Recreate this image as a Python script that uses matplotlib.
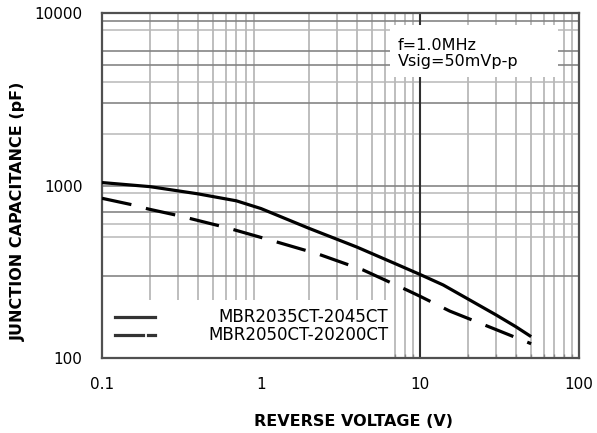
import matplotlib
matplotlib.use("Agg")
import matplotlib.pyplot as plt
from matplotlib.patches import Rectangle
from matplotlib.lines import Line2D
from matplotlib.ticker import FixedLocator, NullFormatter

plt.rcParams['font.family'] = ['DejaVu Sans']

# ---- data ----
v_solid = [0.1, 0.2, 0.4, 0.7, 1.0, 2.0, 4.0, 7.0, 10.0, 14.0, 20.0, 30.0, 40.0, 50.0]
c_solid = [1040, 985, 895, 815, 735, 565, 440, 352, 305, 265, 220, 178, 152, 133]

v_dash = [0.1, 0.157, 0.195, 0.309, 0.611, 1.14, 2.28, 4.38, 8.25, 10.0, 15.4, 29.6, 50.0]
c_dash = [843, 771, 731, 666, 569, 483, 401, 324, 248, 228, 187, 147, 121]

label_solid = "MBR2035CT-2045CT"
label_dash = "MBR2050CT-20200CT"

x_ticks = [0.1, 1, 10, 100]
x_ticklabels = ["0.1", "1", "10", "100"]
y_ticks = [100, 1000, 10000]
y_ticklabels = ["100", "1000", "10000"]

x_grid = [0.2, 0.3, 0.4, 0.5, 0.6, 0.7, 0.8, 0.9,
          2, 3, 4, 5, 6, 7, 8, 9,
          20, 30, 40, 50, 60, 70, 80, 90]
x_grid_major = [10]
y_grid_dark = [9000, 6000, 5000, 3000, 1000, 700, 300]
y_grid_light = [8000, 4000, 2000, 900, 600, 500]

note_lines = ["f=1.0MHz", "Vsig=50mVp-p"]

# ---- figure ----
fig = plt.figure(figsize=(5.97, 4.33), dpi=100)
ax = fig.add_axes([102/597, 1 - 358/433, (579-102)/597, (358-13)/433])
ax.set_xscale('log')
ax.set_yscale('log')
ax.set_xlim(0.1, 100)
ax.set_ylim(100, 10000)

# grid
for xv in x_grid:
    ax.axvline(xv, color='#acacac', lw=1.1, zorder=1)
for xv in x_grid_major:
    ax.axvline(xv, color='#303030', lw=1.5, zorder=1.2)
for yv in y_grid_dark:
    ax.axhline(yv, color='#858585', lw=1.2, zorder=1.1)
for yv in y_grid_light:
    ax.axhline(yv, color='#b8b8b8', lw=1.1, zorder=1)

# ticks
ax.xaxis.set_major_locator(FixedLocator(x_ticks))
ax.set_xticklabels(x_ticklabels)
ax.yaxis.set_major_locator(FixedLocator(y_ticks))
ax.set_yticklabels(y_ticklabels)
ax.xaxis.set_minor_locator(FixedLocator(x_grid))
ax.xaxis.set_minor_formatter(NullFormatter())
ax.yaxis.set_minor_locator(FixedLocator([]))
ax.tick_params(axis='both', which='major', length=0, pad=14, labelsize=11)
ax.tick_params(axis='x', which='minor', direction='in', length=3, width=1, color='#888888')

for s in ax.spines.values():
    s.set_color('#505050')
    s.set_linewidth(1.6)

# white legend area (lower left)
ax.add_patch(Rectangle((0, 0), (393-102)/477, (358-300)/345, transform=ax.transAxes,
                       facecolor='white', edgecolor='none', zorder=2))
# white note box (upper right)
ax.add_patch(Rectangle(((390-102)/477, (358-77)/345), (558-390)/477, (77-25)/345,
                       transform=ax.transAxes, facecolor='white', edgecolor='none', zorder=2))

# curves
ax.plot(v_solid, c_solid, color='black', lw=2.3, zorder=4, solid_capstyle='butt',
        solid_joinstyle='round')
ax.plot(v_dash, c_dash, color='black', lw=2.3, zorder=4,
        linestyle=(0, (9.4, 4.7)), dash_capstyle='butt', dash_joinstyle='round')

# legend (manual)
y1 = (358-317)/345
y2 = (358-335)/345
ax.add_line(Line2D([0.027, 0.111], [y1, y1], transform=ax.transAxes, color='#333333', lw=2.3, zorder=5))
ax.add_line(Line2D([0.027, 0.086], [y2, y2], transform=ax.transAxes, color='#333333', lw=2.3, zorder=5))
ax.add_line(Line2D([0.0964, 0.111], [y2, y2], transform=ax.transAxes, color='#333333', lw=2.3, zorder=5))
ax.text(0.5996, y1, label_solid, transform=ax.transAxes, ha='right', va='center', fontsize=12, zorder=5)
ax.text(0.5996, y2, label_dash, transform=ax.transAxes, ha='right', va='center', fontsize=12, zorder=5)

# note text
ax.text((398-102)/477, (358-45)/345, note_lines[0], transform=ax.transAxes,
        ha='left', va='center', fontsize=11.5, zorder=5)
ax.text((398-102)/477, (358-61.7)/345, note_lines[1], transform=ax.transAxes,
        ha='left', va='center', fontsize=11.5, zorder=5)

# axis labels
ax.set_xlabel("REVERSE VOLTAGE (V)", fontsize=11.5, fontweight='bold', va='center')
ax.xaxis.set_label_coords((353.5-102)/477, (358-421)/345)
ax.set_ylabel("JUNCTION CAPACITANCE (pF)", fontsize=11.5, fontweight='bold', va='center')
ax.yaxis.set_label_coords((18.5-102)/477, (358-211)/345)

fig.savefig("out.png", dpi=100)
